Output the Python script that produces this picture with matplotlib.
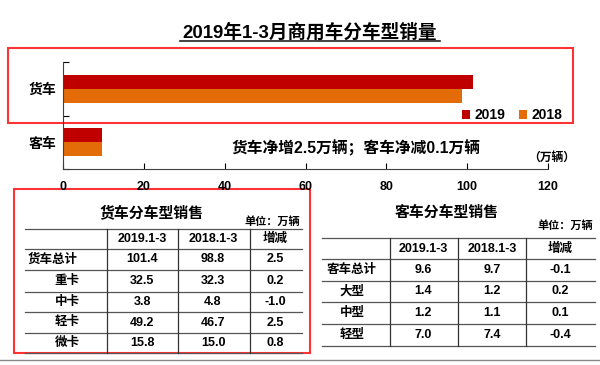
import numpy as np
import matplotlib.pyplot as plt
from matplotlib.patches import Rectangle

plt.rcParams['font.family'] = ['Liberation Sans', 'Noto Sans CJK SC', 'DejaVu Sans']
plt.rcParams['font.weight'] = 'bold'

# bar chart data (万辆)
categories = ['客车', '货车']
sales_2019 = [9.6, 101.4]
sales_2018 = [9.7, 98.8]

# truck table
truck_header = ['', '2019.1-3', '2018.1-3', '增减']
truck_rows = ['货车总计', '重卡', '中卡', '轻卡', '微卡']
truck_2019 = ['101.4', '32.5', '3.8', '49.2', '15.8']
truck_2018 = ['98.8', '32.3', '4.8', '46.7', '15.0']
truck_diff = ['2.5', '0.2', '-1.0', '2.5', '0.8']

# bus table
bus_header = ['', '2019.1-3', '2018.1-3', '增减']
bus_rows = ['客车总计', '大型', '中型', '轻型']
bus_2019 = ['9.6', '1.4', '1.2', '7.0']
bus_2018 = ['9.7', '1.2', '1.1', '7.4']
bus_diff = ['-0.1', '0.2', '0.1', '-0.4']

W, H = 600, 365
fig = plt.figure(figsize=(6, 3.65), dpi=100)

# overlay in pixel coords
ov = fig.add_axes([0, 0, 1, 1])
ov.set_xlim(0, W)
ov.set_ylim(H, 0)
ov.axis('off')

# bar chart
ax = fig.add_axes([63 / W, 1 - 169 / H, (548 - 63) / W, (169 - 62) / H])
ax.patch.set_alpha(0)
y = np.arange(len(categories))
h = 0.26
ax.barh(y + h / 2, sales_2019, height=h, color='#C00000', label='2019')
ax.barh(y - h / 2, sales_2018, height=h, color='#E36C09', label='2018')
ax.set_xlim(0, 120)
ax.set_ylim(-0.5, 1.5)
ax.set_xticks(np.arange(0, 121, 20))
ax.set_yticks([-0.5, 0.5, 1.5])
ax.set_yticklabels([])
ax.set_yticks(y, minor=True)
ax.set_yticklabels(categories, minor=True, fontsize=10, fontweight='bold')
ax.tick_params(axis='y', which='minor', length=0, pad=5)
ax.tick_params(axis='y', which='major', direction='in', length=4)
ax.tick_params(axis='x', direction='in', length=4, pad=9, labelsize=9)
for s in ['top', 'right']:
    ax.spines[s].set_visible(False)
for s in ['left', 'bottom']:
    ax.spines[s].set_color('#404040')
ax.legend(loc='center', bbox_to_anchor=((512 - 63) / 485, (169 - 115) / 107),
          ncol=2, frameon=False, handlelength=0.6, handleheight=0.6,
          handletextpad=0.3, columnspacing=1.0,
          prop={'weight': 'bold', 'size': 10})

# title
ov.text(310, 32, '2019年1-3月商用车分车型销量', ha='center', va='center',
        fontsize=13.4, fontweight='bold')
ov.plot([180, 440], [41, 41], color='#222222', lw=1.2)

ov.text(356, 148, '货车净增2.5万辆；客车净减0.1万辆', ha='center', va='center',
        fontsize=11.3, fontweight='bold')
ov.text(552, 158, '（万辆）', ha='center', va='center', fontsize=8.5, fontweight='bold')

# red boxes
ov.add_patch(Rectangle((8, 48), 565, 75, fill=False, ec='#FF3333', lw=1.5))
ov.add_patch(Rectangle((14, 189), 296, 164, fill=False, ec='#FF3333', lw=1.5))
ov.plot([0, W], [360, 360], color='#888888', lw=1)


def draw_table(title, title_x, unit_x, unit_y, x0, x1, xs_v, col_cx, label_cx,
               ys, header, rows, c1, c2, c3):
    ov.text(title_x, 213, title, ha='center', va='center', fontsize=10.7, fontweight='bold')
    ov.text(unit_x, unit_y, '单位：万辆', ha='center', va='center', fontsize=8,
            fontweight='bold')
    for yy in ys:
        ov.plot([x0, x1], [yy, yy], color='#555555', lw=0.9)
    for xv in xs_v:
        ov.plot([xv, xv], [ys[0], ys[-1]], color='#333333', lw=0.9)
    cy = (ys[0] + ys[1]) / 2
    for cx, t in zip(col_cx, header[1:]):
        ov.text(cx, cy, t, ha='center', va='center', fontsize=9, fontweight='bold')
    for i, name in enumerate(rows):
        cy = (ys[i + 1] + ys[i + 2]) / 2
        lx = label_cx[0] if i == 0 else label_cx[1]
        ov.text(lx, cy, name, ha='center', va='center', fontsize=9, fontweight='bold')
        for cx, col in zip(col_cx, [c1, c2, c3]):
            ov.text(cx, cy, col[i], ha='center', va='center', fontsize=9, fontweight='bold')


draw_table('货车分车型销售', 152, 272, 222, 25, 302, [107, 178, 250],
           [142, 213, 275], [53, 67], [229, 249, 270, 292, 312, 333, 353],
           truck_header, truck_rows, truck_2019, truck_2018, truck_diff)
draw_table('客车分车型销售', 447, 565, 226, 322, 595, [390, 458, 526],
           [423, 492, 560], [352, 352], [238, 259, 281, 302, 324, 346],
           bus_header, bus_rows, bus_2019, bus_2018, bus_diff)

fig.savefig('out.png', dpi=100)
